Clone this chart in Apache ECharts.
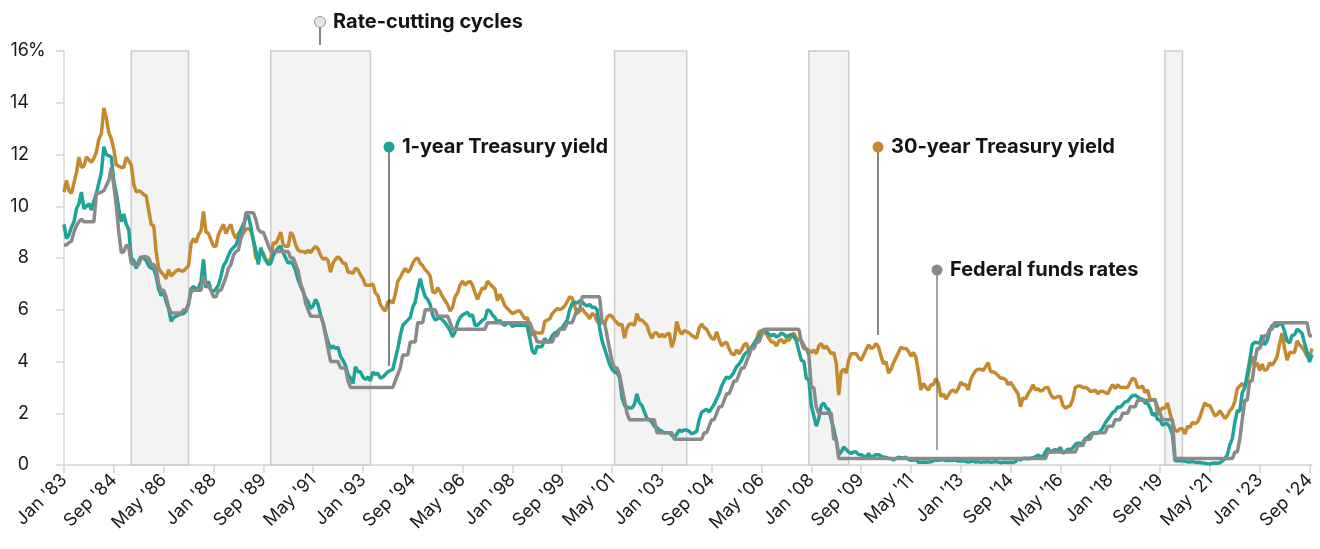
<!DOCTYPE html>
<html>
<head>
<meta charset="utf-8">
<script src="https://cdn.jsdelivr.net/npm/echarts@6/dist/echarts.min.js"></script>
<style>
  html, body { margin: 0; padding: 0; background: #fff; }
  #main { width: 1320px; height: 549px; }
</style>
</head>
<body>
<div id="main"></div>
<script>
// month-end values, Jan 1983 .. Oct 2024
var monthNames = ['Jan', 'Feb', 'Mar', 'Apr', 'May', 'Jun', 'Jul', 'Aug', 'Sep', 'Oct', 'Nov', 'Dec'];
var firstYear = 1983, lastYear = 2024, lastMonth = 10;

var yTicks = [0, 2, 4, 6, 8, 10, 12, 14, 16];

// rate-cutting cycles (shaded bands)
var cutCycles = [
  ["Apr '85", "Mar '87"],
  ["Dec '89", "Apr '93"],
  ["Jun '01", "Nov '03"],
  ["Dec '07", "Apr '09"],
  ["Nov '19", "Jun '20"]
];

var fedFunds = [
  8.5, 8.5, 8.6, 8.65, 9.0, 9.25, 9.4, 9.5, 9.4, 9.4, 9.4, 9.4,
  9.4, 10.5, 10.5, 10.55, 10.6, 10.8, 11.0, 11.5, 10.8, 10.0, 9.0, 8.2,
  8.25, 8.5, 8.4, 7.8, 7.75, 7.7, 7.75, 8.0, 8.05, 8.05, 8.0, 7.75,
  7.75, 7.6, 7.0, 6.75, 6.75, 6.5, 6.1, 5.875, 5.875, 5.875, 5.875, 5.875,
  6.0, 6.0, 6.25, 6.7, 6.75, 6.75, 6.75, 6.75, 7.3, 7.0, 6.9, 6.75,
  6.5, 6.5, 6.75, 6.75, 7.0, 7.25, 7.6, 7.75, 8.1, 8.25, 8.3, 8.75,
  9.0, 9.75, 9.75, 9.75, 9.75, 9.5, 9.1, 9.0, 9.0, 8.75, 8.5, 8.25,
  8.25, 8.25, 8.25, 8.25, 8.25, 8.25, 8.25, 8.0, 8.0, 7.75, 7.5, 7.0,
  6.75, 6.25, 6.0, 5.75, 5.75, 5.75, 5.75, 5.75, 5.5, 5.0, 4.5, 4.0,
  4.0, 4.0, 4.0, 3.75, 3.75, 3.75, 3.25, 3.0, 3.0, 3.0, 3.0, 3.0,
  3.0, 3.0, 3.0, 3.0, 3.0, 3.0, 3.0, 3.0, 3.0, 3.0, 3.0, 3.0,
  3.0, 3.25, 3.5, 3.75, 4.25, 4.25, 4.25, 4.75, 4.75, 4.75, 5.5, 5.5,
  5.5, 6.0, 6.0, 6.0, 6.0, 6.0, 5.75, 5.75, 5.75, 5.75, 5.75, 5.5,
  5.25, 5.25, 5.25, 5.25, 5.25, 5.25, 5.25, 5.25, 5.25, 5.25, 5.25, 5.25,
  5.25, 5.25, 5.5, 5.5, 5.5, 5.5, 5.5, 5.5, 5.5, 5.5, 5.5, 5.5,
  5.5, 5.5, 5.5, 5.5, 5.5, 5.5, 5.5, 5.5, 5.25, 5.0, 4.75, 4.75,
  4.75, 4.75, 4.75, 4.75, 4.75, 5.0, 5.0, 5.25, 5.25, 5.25, 5.5, 5.5,
  5.5, 5.75, 6.0, 6.0, 6.5, 6.5, 6.5, 6.5, 6.5, 6.5, 6.5, 6.5,
  5.5, 5.5, 5.0, 4.5, 4.0, 3.75, 3.75, 3.5, 3.0, 2.5, 2.0, 1.75,
  1.75, 1.75, 1.75, 1.75, 1.75, 1.75, 1.75, 1.75, 1.75, 1.75, 1.25, 1.25,
  1.25, 1.25, 1.25, 1.25, 1.25, 1.0, 1.0, 1.0, 1.0, 1.0, 1.0, 1.0,
  1.0, 1.0, 1.0, 1.0, 1.0, 1.25, 1.25, 1.5, 1.75, 1.75, 2.0, 2.25,
  2.25, 2.5, 2.75, 2.75, 3.0, 3.25, 3.25, 3.5, 3.75, 3.75, 4.0, 4.25,
  4.5, 4.5, 4.75, 4.75, 5.0, 5.25, 5.25, 5.25, 5.25, 5.25, 5.25, 5.25,
  5.25, 5.25, 5.25, 5.25, 5.25, 5.25, 5.25, 5.25, 4.75, 4.5, 4.5, 4.25,
  3.0, 3.0, 2.25, 2.0, 2.0, 2.0, 2.0, 2.0, 2.0, 1.0, 1.0, 0.25,
  0.25, 0.25, 0.25, 0.25, 0.25, 0.25, 0.25, 0.25, 0.25, 0.25, 0.25, 0.25,
  0.25, 0.25, 0.25, 0.25, 0.25, 0.25, 0.25, 0.25, 0.25, 0.25, 0.25, 0.25,
  0.25, 0.25, 0.25, 0.25, 0.25, 0.25, 0.25, 0.25, 0.25, 0.25, 0.25, 0.25,
  0.25, 0.25, 0.25, 0.25, 0.25, 0.25, 0.25, 0.25, 0.25, 0.25, 0.25, 0.25,
  0.25, 0.25, 0.25, 0.25, 0.25, 0.25, 0.25, 0.25, 0.25, 0.25, 0.25, 0.25,
  0.25, 0.25, 0.25, 0.25, 0.25, 0.25, 0.25, 0.25, 0.25, 0.25, 0.25, 0.25,
  0.25, 0.25, 0.25, 0.25, 0.25, 0.25, 0.25, 0.25, 0.25, 0.25, 0.25, 0.5,
  0.5, 0.5, 0.5, 0.5, 0.5, 0.5, 0.5, 0.5, 0.5, 0.5, 0.5, 0.75,
  0.75, 0.75, 1.0, 1.0, 1.0, 1.25, 1.25, 1.25, 1.25, 1.25, 1.25, 1.5,
  1.5, 1.5, 1.75, 1.75, 1.75, 2.0, 2.0, 2.0, 2.25, 2.25, 2.25, 2.5,
  2.5, 2.5, 2.5, 2.5, 2.5, 2.5, 2.5, 2.25, 2.0, 1.75, 1.75, 1.75,
  1.75, 1.75, 0.25, 0.25, 0.25, 0.25, 0.25, 0.25, 0.25, 0.25, 0.25, 0.25,
  0.25, 0.25, 0.25, 0.25, 0.25, 0.25, 0.25, 0.25, 0.25, 0.25, 0.25, 0.25,
  0.25, 0.25, 0.5, 0.5, 1.0, 1.75, 2.5, 2.5, 3.25, 3.25, 4.0, 4.5,
  4.5, 4.75, 5.0, 5.0, 5.25, 5.25, 5.5, 5.5, 5.5, 5.5, 5.5, 5.5,
  5.5, 5.5, 5.5, 5.5, 5.5, 5.5, 5.5, 5.5, 5.0, 5.0
];

var oneYear = [
  9.3, 8.75, 8.9, 9.2, 9.4, 9.9, 10.1, 10.55, 9.9, 10.0, 10.1, 9.85,
  10.2, 10.5, 10.9, 11.3, 12.3, 12.0, 11.95, 11.9, 11.0, 10.5, 9.9, 9.4,
  9.7, 9.3, 9.1, 8.0, 7.9, 7.6, 7.9, 8.05, 8.0, 7.9, 7.7, 7.6,
  7.6, 7.3, 6.8, 6.55, 6.7, 6.3, 6.05, 5.55, 5.7, 5.75, 5.8, 5.85,
  5.85, 5.95, 6.2, 6.8, 6.9, 6.8, 6.85, 7.1, 7.95, 6.85, 7.1, 6.75,
  6.7, 6.8, 6.95, 7.3, 7.7, 7.85, 8.1, 8.3, 8.4, 8.5, 8.75, 9.1,
  9.3, 9.55, 9.65, 9.2, 8.7, 8.3, 7.75, 8.4, 8.1, 7.9, 7.75, 7.8,
  8.1, 8.25, 8.4, 8.45, 8.2, 8.0, 7.8, 7.85, 7.75, 7.5, 7.15, 6.9,
  6.7, 6.45, 6.3, 6.05, 6.15, 6.4, 6.2, 5.8, 5.5, 5.1, 4.75, 4.5,
  4.6, 4.5, 4.55, 4.2, 4.05, 3.85, 3.5, 3.35, 3.15, 3.8, 3.6, 3.6,
  3.4, 3.3, 3.4, 3.25, 3.6, 3.5, 3.55, 3.35, 3.4, 3.5, 3.6, 3.65,
  3.7, 4.1, 4.5, 5.0, 5.4, 5.5, 5.6, 5.7, 6.1, 6.3, 6.8, 7.2,
  6.8, 6.5, 6.4, 6.2, 5.8, 5.6, 5.65, 5.7, 5.6, 5.5, 5.35, 5.2,
  4.95, 5.15, 5.5, 5.7, 5.8, 5.85, 5.9, 5.75, 5.8, 5.4, 5.4, 5.5,
  5.6, 5.65, 6.0, 5.95, 5.8, 5.7, 5.5, 5.6, 5.45, 5.4, 5.5, 5.5,
  5.35, 5.4, 5.4, 5.4, 5.4, 5.4, 5.35, 4.9, 4.4, 4.3, 4.6, 4.55,
  4.6, 4.9, 4.75, 4.8, 5.0, 5.1, 5.15, 5.25, 5.3, 5.45, 5.6, 6.0,
  6.25, 6.3, 6.25, 6.35, 6.3, 6.2, 6.15, 6.2, 6.1, 6.1, 6.0, 5.3,
  4.8, 4.5, 4.2, 3.9, 3.7, 3.6, 3.55, 3.4, 2.6, 2.3, 2.25, 2.2,
  2.2, 2.35, 2.75, 2.4, 2.3, 2.05, 1.8, 1.75, 1.65, 1.5, 1.45, 1.35,
  1.3, 1.25, 1.25, 1.25, 1.15, 1.05, 1.2, 1.35, 1.3, 1.35, 1.35, 1.3,
  1.2, 1.25, 1.3, 1.75, 2.05, 2.1, 2.15, 2.05, 2.2, 2.35, 2.55, 2.75,
  3.05, 3.25, 3.4, 3.35, 3.45, 3.6, 3.8, 3.9, 4.05, 4.25, 4.35, 4.4,
  4.55, 4.7, 4.85, 4.95, 5.1, 5.25, 5.15, 5.05, 5.0, 5.05, 4.95, 5.0,
  5.1, 5.05, 4.95, 5.0, 5.05, 4.95, 4.8, 4.4, 4.05, 4.0, 3.35, 3.3,
  2.3, 1.9, 1.5, 1.8, 2.3, 2.4, 2.2, 2.15, 1.75, 1.4, 0.95, 0.4,
  0.5, 0.7, 0.6, 0.5, 0.45, 0.5, 0.5, 0.4, 0.4, 0.35, 0.3, 0.45,
  0.3, 0.35, 0.4, 0.4, 0.35, 0.3, 0.3, 0.25, 0.25, 0.2, 0.25, 0.3,
  0.28, 0.27, 0.3, 0.22, 0.18, 0.19, 0.2, 0.11, 0.11, 0.12, 0.11, 0.12,
  0.12, 0.17, 0.19, 0.18, 0.19, 0.21, 0.17, 0.18, 0.17, 0.18, 0.18, 0.15,
  0.15, 0.16, 0.14, 0.11, 0.13, 0.15, 0.11, 0.13, 0.10, 0.12, 0.12, 0.13,
  0.10, 0.12, 0.13, 0.11, 0.09, 0.11, 0.11, 0.10, 0.11, 0.10, 0.13, 0.25,
  0.20, 0.25, 0.26, 0.24, 0.26, 0.28, 0.32, 0.38, 0.33, 0.33, 0.51, 0.65,
  0.47, 0.56, 0.59, 0.55, 0.68, 0.45, 0.51, 0.61, 0.59, 0.66, 0.80, 0.85,
  0.82, 0.86, 1.03, 1.07, 1.17, 1.24, 1.23, 1.23, 1.31, 1.43, 1.62, 1.76,
  1.89, 2.03, 2.09, 2.24, 2.23, 2.33, 2.44, 2.46, 2.59, 2.69, 2.70, 2.63,
  2.56, 2.54, 2.40, 2.39, 2.21, 1.92, 2.00, 1.75, 1.75, 1.53, 1.60, 1.59,
  1.45, 1.17, 0.17, 0.16, 0.17, 0.16, 0.14, 0.12, 0.12, 0.13, 0.11, 0.10,
  0.10, 0.08, 0.07, 0.05, 0.04, 0.07, 0.08, 0.07, 0.09, 0.15, 0.24, 0.39,
  0.78, 1.01, 1.63, 2.10, 2.08, 2.80, 2.98, 3.50, 4.05, 4.66, 4.74, 4.73,
  4.70, 5.02, 4.64, 4.80, 5.18, 5.40, 5.37, 5.37, 5.46, 5.44, 5.17, 4.79,
  4.72, 5.01, 5.03, 5.25, 5.18, 5.09, 4.71, 4.38, 3.98, 4.27
];

var thirtyYear = [
  10.55, 11.0, 10.6, 10.5, 10.9, 11.3, 11.9, 11.5, 11.55, 11.9, 11.8, 11.7,
  11.85, 12.1, 12.6, 12.8, 13.8, 13.4, 12.85, 12.6, 12.2, 11.6, 11.55, 11.5,
  11.5, 11.9, 11.75, 11.6, 10.85, 10.55, 10.6, 10.55, 10.45, 10.4, 9.85, 9.3,
  9.25, 8.25, 7.6, 7.45, 7.35, 7.2, 7.55, 7.3, 7.4, 7.5, 7.55, 7.5,
  7.5, 7.6, 7.7, 8.55, 8.75, 8.6, 8.9, 9.05, 9.8, 9.0, 8.95, 8.7,
  8.45, 8.45, 8.9, 9.1, 9.3, 8.95, 9.15, 9.3, 8.95, 8.75, 8.95, 9.05,
  8.95, 9.1, 9.15, 9.05, 8.7, 8.0, 7.95, 8.25, 8.2, 7.9, 7.9, 7.95,
  8.6, 8.55, 8.75, 9.0, 8.5, 8.45, 8.45, 9.0, 8.85, 8.5, 8.3, 8.25,
  8.25, 8.2, 8.3, 8.2, 8.35, 8.45, 8.35, 8.1, 7.95, 8.0, 7.9, 7.45,
  7.8, 7.95, 8.05, 7.95, 7.8, 7.8, 7.45, 7.45, 7.4, 7.6, 7.55, 7.35,
  7.2, 6.95, 6.95, 6.95, 7.0, 6.65, 6.55, 6.2, 6.05, 5.95, 6.3, 6.35,
  6.25, 6.6, 7.1, 7.25, 7.45, 7.6, 7.45, 7.55, 7.8, 7.95, 8.0, 7.8,
  7.7, 7.55, 7.45, 7.3, 6.7, 6.65, 6.85, 6.7, 6.5, 6.35, 6.2, 5.95,
  6.1, 6.5, 6.65, 6.95, 7.1, 6.95, 7.05, 7.1, 6.95, 6.65, 6.4, 6.65,
  6.85, 6.8, 7.1, 7.0, 6.9, 6.8, 6.35, 6.6, 6.4, 6.15, 6.05, 5.95,
  5.85, 5.9, 5.95, 5.95, 5.8, 5.65, 5.7, 5.3, 5.0, 5.15, 5.1, 5.1,
  5.1, 5.55, 5.6, 5.65, 5.85, 5.95, 6.05, 6.0, 6.05, 6.15, 6.3, 6.5,
  6.45, 6.15, 5.85, 5.95, 6.05, 5.9, 5.8, 5.65, 5.85, 5.8, 5.55, 5.45,
  5.55, 5.45, 5.7, 5.8, 5.75, 5.6, 5.5, 5.4, 5.45, 4.9, 5.3, 5.45,
  5.45, 5.4, 5.85, 5.6, 5.6, 5.5, 5.4, 5.1, 4.9, 5.1, 5.1, 4.95,
  5.05, 4.95, 5.05, 5.1, 4.55, 4.85, 5.55, 5.2, 5.05, 5.2, 5.15, 5.1,
  5.0, 4.95, 4.9, 5.3, 5.45, 5.3, 5.25, 5.05, 4.9, 4.85, 5.15, 4.85,
  4.6, 4.7, 4.75, 4.5, 4.3, 4.25, 4.45, 4.3, 4.45, 4.65, 4.7, 4.4,
  4.55, 4.55, 4.85, 5.15, 5.2, 5.15, 5.05, 4.9, 4.75, 4.75, 4.6, 4.8,
  4.85, 4.7, 4.85, 4.8, 5.0, 5.1, 4.9, 4.85, 4.8, 4.65, 4.45, 4.45,
  4.35, 4.45, 4.3, 4.6, 4.7, 4.5, 4.6, 4.45, 4.3, 4.35, 3.95, 2.7,
  3.6, 3.7, 3.55, 4.05, 4.3, 4.3, 4.3, 4.15, 4.05, 4.25, 4.45, 4.65,
  4.5, 4.55, 4.7, 4.55, 4.2, 3.9, 4.0, 3.55, 3.7, 3.95, 4.15, 4.35,
  4.55, 4.5, 4.5, 4.4, 4.2, 4.35, 4.15, 3.6, 2.9, 3.15, 3.0, 2.9,
  3.1, 3.1, 3.35, 3.15, 2.65, 2.75, 2.55, 2.7, 2.85, 2.9, 2.8, 2.95,
  3.2, 3.1, 3.1, 2.9, 3.3, 3.5, 3.65, 3.7, 3.7, 3.65, 3.8, 3.95,
  3.6, 3.6, 3.55, 3.45, 3.35, 3.35, 3.3, 3.1, 3.2, 3.05, 2.9, 2.75,
  2.25, 2.6, 2.55, 2.75, 2.9, 3.1, 2.9, 2.95, 2.85, 2.9, 3.0, 3.0,
  2.75, 2.6, 2.6, 2.65, 2.65, 2.3, 2.2, 2.25, 2.3, 2.55, 3.0, 3.05,
  3.05, 3.0, 3.0, 2.95, 2.85, 2.85, 2.9, 2.75, 2.85, 2.85, 2.8, 2.75,
  2.95, 3.1, 2.95, 3.1, 3.0, 3.0, 3.0, 3.0, 3.2, 3.35, 3.3, 3.0,
  3.0, 3.05, 2.8, 2.9, 2.55, 2.5, 2.55, 1.95, 2.1, 2.2, 2.2, 2.4,
  2.0, 1.65, 1.35, 1.3, 1.4, 1.4, 1.2, 1.5, 1.45, 1.65, 1.6, 1.65,
  1.85, 2.15, 2.4, 2.3, 2.3, 2.1, 1.9, 1.95, 2.1, 1.95, 1.8, 1.9,
  2.1, 2.2, 2.45, 2.95, 3.05, 3.15, 3.0, 3.25, 3.8, 4.2, 3.8, 3.95,
  3.65, 3.9, 3.65, 3.7, 3.95, 3.85, 4.0, 4.2, 4.7, 5.1, 4.5, 4.05,
  4.35, 4.35, 4.35, 4.8, 4.65, 4.55, 4.4, 4.2, 4.15, 4.5
];

var categories = [];
for (var y = firstYear; y <= lastYear; y++) {
  for (var m = 0; m < 12; m++) {
    if (y === lastYear && m >= lastMonth) break;
    categories.push(monthNames[m] + " '" + String(y).slice(2));
  }
}

var teal = '#1ea398', gold = '#c68a2e', grey = '#8a8a8a';
var axisGrey = '#d4d4d4';
var font = 'Inter, "Noto Sans", sans-serif';

var myChart = echarts.init(document.getElementById('main'));

function note(x, y, bottom, dotColor, dotStroke, lineColor, text) {
  return [
    { type: 'line', z: 20, shape: { x1: x, y1: y, x2: x, y2: bottom }, style: { stroke: lineColor, lineWidth: 1.2 } },
    { type: 'circle', z: 21, shape: { cx: x, cy: y, r: 5.5 }, style: { fill: dotColor, stroke: dotStroke, lineWidth: dotStroke ? 1 : 0 } },
    { type: 'text', z: 21, x: x + 13, y: y, style: { text: text, fill: '#141414', font: 'bold 20px ' + font, verticalAlign: 'middle' } }
  ];
}

var graphics = [].concat(
  note(320, 22, 45, '#e6e6e6', '#9a9a9a', '#333', 'Rate-cutting cycles'),
  note(389, 147, 366, teal, null, '#333', '1-year Treasury yield'),
  note(878, 147, 335, gold, null, '#333', '30-year Treasury yield'),
  note(937, 270, 450, grey, null, '#666', 'Federal funds rates'),
  [{ type: 'text', x: 28, y: 51, style: { text: '%', fill: '#1a1a1a', font: '18px ' + font, verticalAlign: 'middle' } }]
);

var option = {
  animation: false,
  backgroundColor: '#fff',
  grid: { left: 64, right: 8, top: 51, bottom: 84 },
  xAxis: {
    type: 'category',
    data: categories,
    boundaryGap: false,
    axisLine: { lineStyle: { color: axisGrey, width: 1.5 } },
    axisTick: { interval: 19, length: 8, lineStyle: { color: axisGrey, width: 1.5 } },
    axisLabel: { interval: 19, rotate: 45, margin: 12, fontSize: 18, color: '#1a1a1a', fontFamily: font },
    splitLine: { show: false }
  },
  yAxis: {
    type: 'value',
    min: yTicks[0],
    max: yTicks[yTicks.length - 1],
    interval: 2,
    axisLine: { show: true, lineStyle: { color: axisGrey, width: 1.5 } },
    axisTick: { show: true, length: 8, lineStyle: { color: axisGrey, width: 1.5 } },
    axisLabel: { margin: 35, fontSize: 18, color: '#1a1a1a', fontFamily: font },
    splitLine: { show: false }
  },
  series: [
    {
      name: 'cycles',
      type: 'line',
      data: [],
      z: 1,
      silent: true,
      markArea: {
        silent: true,
        itemStyle: { color: '#f3f3f3', borderColor: '#cccccc', borderWidth: 1.5 },
        data: cutCycles.map(function (c) { return [{ xAxis: c[0] }, { xAxis: c[1] }]; })
      }
    },
    {
      name: '30-year Treasury yield',
      type: 'line',
      data: thirtyYear,
      symbol: 'none',
      z: 3,
      lineStyle: { color: gold, width: 3.5 }
    },
    {
      name: '1-year Treasury yield',
      type: 'line',
      data: oneYear,
      symbol: 'none',
      z: 4,
      lineStyle: { color: teal, width: 3.5 }
    },
    {
      name: 'Federal funds rates',
      type: 'line',
      data: fedFunds,
      symbol: 'none',
      z: 5,
      lineStyle: { color: grey, width: 3.5 }
    }
  ],
  graphic: graphics
};

myChart.setOption(option);
</script>
</body>
</html>
